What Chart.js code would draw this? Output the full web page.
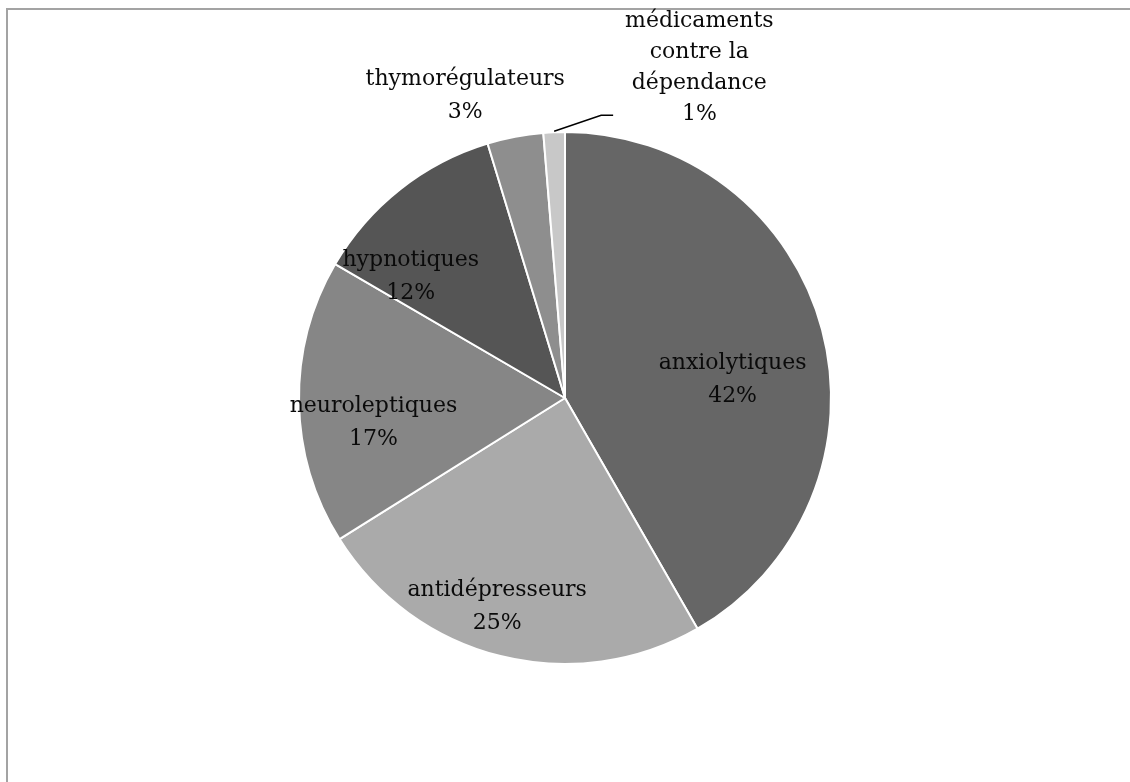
<!DOCTYPE html>
<html>
<head>
<meta charset="utf-8">
<script src="https://cdn.jsdelivr.net/npm/chart.js@4.4.0/dist/chart.umd.min.js"></script>
<style>
  html, body { margin: 0; padding: 0; background: #fff; overflow: hidden; }
  #wrap { position: relative; width: 1130px; height: 782px; }
  #frame { position: absolute; left: 6px; top: 8px; width: 1200px; height: 900px;
           border-left: 2px solid #a3a3a3; border-top: 2px solid #a3a3a3; }
  canvas { position: absolute; left: 0; top: 0; }
</style>
</head>
<body>
<div id="wrap">
  <div id="frame"></div>
  <canvas id="pieChart" width="1130" height="782"></canvas>
</div>
<script>
// Medication categories (clockwise from 12 o'clock)
const categories = [
    ['anxiolytiques'],
    ['antidépresseurs'],
    ['neuroleptiques'],
    ['hypnotiques'],
    ['thymorégulateurs'],
    ['médicaments', 'contre la', 'dépendance']
];
const shares = [41.7, 24.4, 17.3, 11.9, 3.4, 1.3];
const percentLabels = ['42%', '25%', '17%', '12%', '3%', '1%'];
const sliceColors = ['#666666', '#aaaaaa', '#868686', '#555555', '#8e8e8e', '#c8c8c8'];

// label anchors, as fractions of the radius from the pie centre
const labelSpots = [
    [0.63, -0.07],
    [-0.255, 0.785],
    [-0.72, 0.095],
    [-0.58, -0.455],
    [-0.375, -1.135],
    [0.505, -1.24]
];

const labelPlugin = {
    id: 'sliceLabels',
    afterDatasetsDraw(chart) {
        const ctx = chart.ctx;
        const arcs = chart.getDatasetMeta(0).data;
        ctx.save();
        ctx.font = '22px "DejaVu Serif"';
        ctx.fillStyle = '#0a0a0a';
        ctx.textAlign = 'center';
        ctx.textBaseline = 'middle';
        arcs.forEach((arc, i) => {
            const cx = arc.x, cy = arc.y, r = arc.outerRadius;
            const lines = categories[i].concat([percentLabels[i]]);
            const lineH = lines.length > 2 ? 31 : 33;
            const x = cx + labelSpots[i][0] * r;
            const y = cy + labelSpots[i][1] * r;
            const top = y - (lines.length - 1) * lineH / 2;
            lines.forEach((t, k) => ctx.fillText(t, x, top + k * lineH));

            // leader line for the smallest slice
            if (i === arcs.length - 1) {
                const mid = (arc.startAngle + arc.endAngle) / 2;
                const sx = cx + Math.cos(mid) * r;
                const sy = cy + Math.sin(mid) * r;
                ctx.beginPath();
                ctx.strokeStyle = '#000';
                ctx.lineWidth = 1.5;
                ctx.moveTo(sx, sy - 1);
                ctx.lineTo(sx + 47, sy - 17);
                ctx.lineTo(sx + 59, sy - 17);
                ctx.stroke();
            }
        });
        ctx.restore();
    }
};

new Chart(document.getElementById('pieChart'), {
    type: 'pie',
    data: {
        labels: categories.map(c => c.join(' ')),
        datasets: [{
            data: shares,
            backgroundColor: sliceColors,
            borderColor: '#ffffff',
            borderWidth: 2
        }]
    },
    options: {
        responsive: false,
        animation: false,
        layout: { padding: { top: 131, bottom: 117, left: 0, right: 0 } },
        plugins: {
            legend: { display: false },
            tooltip: { enabled: false }
        }
    },
    plugins: [labelPlugin]
});
</script>
</body>
</html>
